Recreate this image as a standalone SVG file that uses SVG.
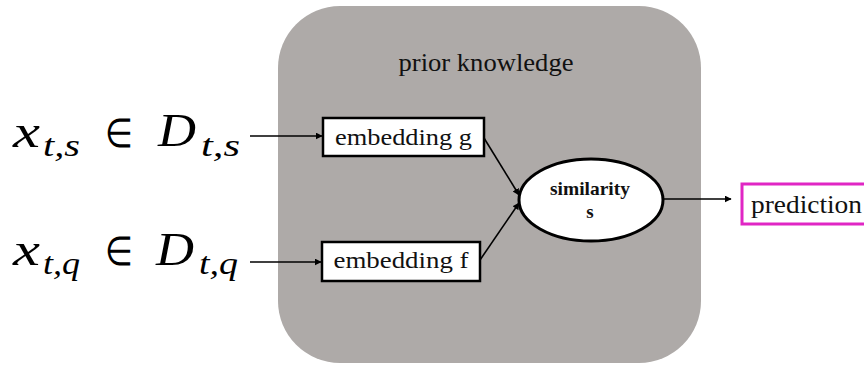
<svg xmlns="http://www.w3.org/2000/svg" width="864" height="365" viewBox="0 0 864 365">
  <defs>
    <marker id="arrow" viewBox="0 0 10 10" refX="9" refY="5" markerWidth="7" markerHeight="7" markerUnits="userSpaceOnUse" orient="auto">
      <path d="M0,0 L10,5 L0,10 z" fill="#000"/>
    </marker>
    <style>
      .box { fill: #fff; stroke: #000; stroke-width: 2.5; }
      .edge { fill: none; stroke: #000; stroke-width: 1.6; marker-end: url(#arrow); }
    </style>
  </defs>

  <rect width="864" height="365" fill="#fff"/>

  <!-- prior knowledge container -->
  <g id="prior-knowledge">
    <rect x="278" y="6" width="423" height="357" rx="62" ry="62" fill="#aeaaa8"/>
    <text x="486" y="71" font-family="'Liberation Serif', serif" font-size="25" fill="#111" text-anchor="middle" textLength="175" lengthAdjust="spacingAndGlyphs">prior knowledge</text>
  </g>

  <!-- support input -->
  <g id="input-support" font-family="'Liberation Serif', serif" fill="#000">
    <text x="13" y="147" font-size="46" font-style="italic" textLength="27" lengthAdjust="spacingAndGlyphs">x</text>
    <text x="43" y="156" font-size="32" font-style="italic" textLength="37" lengthAdjust="spacingAndGlyphs">t,s</text>
    <text x="105" y="147" font-size="40" textLength="28" lengthAdjust="spacingAndGlyphs">∈</text>
    <text x="158" y="146" font-size="46" font-style="italic" textLength="38" lengthAdjust="spacingAndGlyphs">D</text>
    <text x="201" y="156" font-size="32" font-style="italic" textLength="39" lengthAdjust="spacingAndGlyphs">t,s</text>
  </g>

  <!-- query input -->
  <g id="input-query" font-family="'Liberation Serif', serif" fill="#000">
    <text x="13" y="265" font-size="46" font-style="italic" textLength="27" lengthAdjust="spacingAndGlyphs">x</text>
    <text x="43" y="274" font-size="32" font-style="italic" textLength="37" lengthAdjust="spacingAndGlyphs">t,q</text>
    <text x="105" y="265" font-size="40" textLength="28" lengthAdjust="spacingAndGlyphs">∈</text>
    <text x="156" y="265" font-size="46" font-style="italic" textLength="38" lengthAdjust="spacingAndGlyphs">D</text>
    <text x="199" y="274" font-size="32" font-style="italic" textLength="39" lengthAdjust="spacingAndGlyphs">t,q</text>
  </g>

  <g id="embedding-g">
    <rect class="box" x="323" y="118" width="161" height="38"/>
    <text x="403.5" y="145" font-family="'Liberation Serif', serif" font-size="24" fill="#111" text-anchor="middle" textLength="137" lengthAdjust="spacingAndGlyphs">embedding g</text>
  </g>

  <g id="embedding-f">
    <rect class="box" x="322" y="242" width="158" height="39"/>
    <text x="401" y="268" font-family="'Liberation Serif', serif" font-size="24" fill="#111" text-anchor="middle" textLength="135" lengthAdjust="spacingAndGlyphs">embedding f</text>
  </g>

  <g id="similarity">
    <ellipse cx="591" cy="200" rx="72" ry="41" fill="#fff" stroke="#000" stroke-width="3"/>
    <text x="590" y="195" font-family="'Liberation Serif', serif" font-size="19" font-weight="bold" fill="#111" text-anchor="middle" textLength="80" lengthAdjust="spacingAndGlyphs">similarity</text>
    <text x="590" y="218" font-family="'Liberation Serif', serif" font-size="19" font-weight="bold" fill="#111" text-anchor="middle">s</text>
  </g>

  <g id="prediction">
    <rect x="742" y="184" width="130" height="40" fill="#fff" stroke="#e026c4" stroke-width="3"/>
    <text x="751" y="213" font-family="'Liberation Serif', serif" font-size="25" fill="#111" textLength="111" lengthAdjust="spacingAndGlyphs">prediction</text>
  </g>

  <g id="connectors">
    <line class="edge" x1="250" y1="136" x2="322" y2="136"/>
    <line class="edge" x1="250" y1="262" x2="321" y2="262"/>
    <line class="edge" x1="484" y1="138" x2="519" y2="195"/>
    <line class="edge" x1="480" y1="260" x2="519" y2="203"/>
    <line class="edge" x1="664" y1="199" x2="731" y2="199"/>
  </g>
</svg>
